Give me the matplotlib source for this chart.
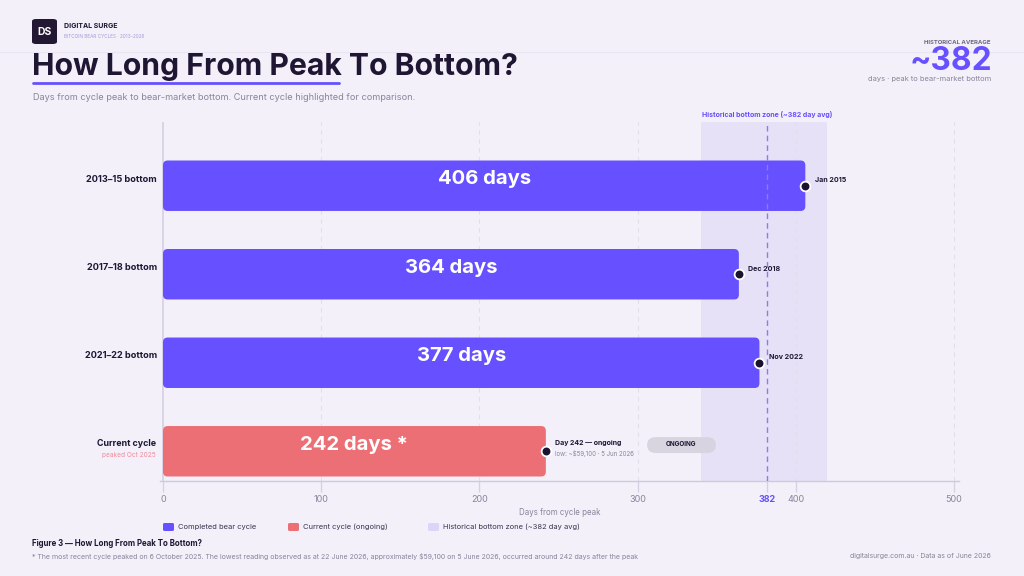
import matplotlib
matplotlib.use("Agg")
import matplotlib.pyplot as plt
from matplotlib.patches import FancyBboxPatch
from matplotlib.lines import Line2D

# ---- data ----
categories = ["2013–15 bottom", "2017–18 bottom", "2021–22 bottom", "Current cycle"]
days = [406, 364, 377, 242]
bar_labels = ["406 days", "364 days", "377 days", "242 days *"]
end_labels = ["Jan 2015", "Dec 2018", "Nov 2022", "Day 242 — ongoing"]
hist_avg = 382
zone = [340, 420]
x_ticks = [0, 100, 200, 300, 400, 500]

BG = "#F3F0FA"
PURPLE = "#6650FF"
RED = "#EC6F76"
ZONE = "#E6E1F7"
DARK = "#1F1633"
GRAY = "#8A8499"

plt.rcParams["font.family"] = ["Inter", "DejaVu Sans"]

W, H = 1024, 576
fig = plt.figure(figsize=(W / 100, H / 100), dpi=100, facecolor=BG)

def fx(x):
    return x / W

def fy(y):
    return 1 - y / H

# axes geometry
ax_left, ax_right, ax_top, ax_bot = 159.8, 958.8, 122, 481
ax = fig.add_axes([fx(ax_left), fy(ax_bot), (ax_right - ax_left) / W, (ax_bot - ax_top) / H])
ax.set_facecolor(BG)
ax.set_xlim(-2, 503)
ax.set_ylim(3.336, -0.72)

# zone and grid
ax.axvspan(zone[0], zone[1], color=ZONE, zorder=0, lw=0)
for t in x_ticks[1:]:
    ax.axvline(t, color="#E2DEEC", lw=0.8, ls=(0, (4, 4)), zorder=0.5)
ax.axvline(0, color="#D6D0E2", lw=1.2, zorder=1)

ypos = list(range(len(categories)))
colors = [PURPLE, PURPLE, PURPLE, RED]
bars = ax.barh(ypos, days, height=0.57, color=colors, zorder=2)
# rounded corners
x_px = 799 / 505
y_px = 359 / 4.056
for b, c in zip(bars, colors):
    b.set_visible(False)
    r = 3.0
    p = FancyBboxPatch((b.get_x(), b.get_y()), b.get_width(), b.get_height(),
                       boxstyle=f"round,pad=0,rounding_size={r}",
                       mutation_aspect=x_px / y_px,
                       facecolor=c, edgecolor="none", zorder=2)
    ax.add_patch(p)

ax.axvline(hist_avg, color="#8B7BF0", lw=1.0, ls=(0, (4, 3)), zorder=3)

for i, (v, lab) in enumerate(zip(days, bar_labels)):
    ax.text(v / 2, i - 0.075, lab, color="white", fontsize=14.6, fontweight="bold",
            ha="center", va="center", zorder=4)
    ax.plot([v], [i], "o", ms=7, mfc="#1B1230", mec="white", mew=1.3, zorder=5, clip_on=False)
    if i < 3:
        ax.text(v + 6, i - 0.06, end_labels[i], color=DARK, fontsize=5.1, fontweight="bold",
                ha="left", va="center", zorder=5)
    else:
        ax.text(v + 6, i - 0.09, end_labels[i], color=DARK, fontsize=5.0, fontweight="bold",
                ha="left", va="center", zorder=5)
        ax.text(v + 6, i + 0.03, "low: ~$59,100 · 5 Jun 2026", color=GRAY, fontsize=4.4,
                ha="left", va="center", zorder=5)
        pill = FancyBboxPatch((306, i - 0.16), 43.5, 0.18,
                              boxstyle="round,pad=0,rounding_size=5.5",
                              mutation_aspect=(0.09 / 5.5),
                              facecolor="#D7D3DF", edgecolor="none", zorder=4, alpha=0.95)
        ax.add_patch(pill)
        ax.text(327.5, i - 0.085, "ONGOING", color=DARK, fontsize=4.6, fontweight="bold",
                ha="center", va="center", zorder=5)

# y labels
ax.set_yticks([])
for i, c in enumerate(categories):
    if i < 3:
        fig.text(fx(157), fy(179 + 88.3 * i), c, color=DARK, fontsize=6.6, fontweight="bold",
                 ha="right", va="center")
fig.text(fx(156), fy(444), categories[3], color=DARK, fontsize=6.4, fontweight="bold",
         ha="right", va="center")
fig.text(fx(156), fy(455), "peaked Oct 2025", color="#F08A99", fontsize=4.7, ha="right", va="center")

# spines & ticks
for s in ["top", "right", "left"]:
    ax.spines[s].set_visible(False)
ax.spines["bottom"].set_color("#CFC8DF")
ax.spines["bottom"].set_linewidth(1.0)
ax.set_xticks(x_ticks + [hist_avg])
ax.set_xticklabels([str(t) for t in x_ticks] + [str(hist_avg)])
ax.tick_params(axis="x", length=8, width=0.9, color="#D6D0E2", labelsize=6.5,
               labelcolor=GRAY, pad=2)
for tk in ax.xaxis.get_major_ticks():
    if tk.label1.get_text() == str(hist_avg):
        tk.label1.set_color(PURPLE)
        tk.label1.set_fontweight("bold")
        tk.tick1line.set_color("#8B7BF0")
ax.set_xlabel("Days from cycle peak", fontsize=5.7, color=GRAY, labelpad=3)

# zone label
fig.text(fx(767), fy(114), "Historical bottom zone (~382 day avg)", color=PURPLE,
         fontsize=5, fontweight="bold", ha="center", va="center")

# legend
leg_items = [(163, PURPLE, "Completed bear cycle"),
             (288, RED, "Current cycle (ongoing)"),
             (428, "#DCD5F7", "Historical bottom zone (~382 day avg)")]
for x0, c, t in leg_items:
    fig.patches.append(FancyBboxPatch((fx(x0), fy(531)), 11 / W, 8 / H,
                                      boxstyle="round,pad=0,rounding_size=0.002",
                                      transform=fig.transFigure, facecolor=c,
                                      edgecolor="none"))
    fig.text(fx(x0 + 15), fy(526.5), t, color="#3A3350", fontsize=5.4, ha="left", va="center")

# header
fig.patches.append(FancyBboxPatch((fx(32), fy(44)), 25 / W, 25 / H,
                                  boxstyle="round,pad=0,rounding_size=0.004",
                                  transform=fig.transFigure, facecolor="#221833",
                                  edgecolor="none"))
fig.text(fx(44.5), fy(32), "DS", color="white", fontsize=7.5, fontweight="bold",
         ha="center", va="center")
fig.text(fx(64), fy(25.5), "DIGITAL SURGE", color=DARK, fontsize=5.0, fontweight="bold",
         ha="left", va="center")
fig.text(fx(64), fy(36.5), "BITCOIN BEAR CYCLES · 2013–2026", color="#A79BD6", fontsize=3.4,
         ha="left", va="center")
fig.lines.append(Line2D([0, 1], [fy(52), fy(52)], transform=fig.transFigure,
                        color="#E9E5F2", lw=0.8))
fig.text(fx(32), fy(67), "How Long From Peak To Bottom?", color=DARK, fontsize=21.7,
         fontweight="bold", ha="left", va="center")
fig.lines.append(Line2D([fx(33), fx(339)], [fy(83), fy(83)], transform=fig.transFigure,
                        color=PURPLE, lw=2, solid_capstyle="round"))
fig.text(fx(33), fy(97), "Days from cycle peak to bear-market bottom. Current cycle highlighted for comparison.",
         color=GRAY, fontsize=6.6, ha="left", va="center")

fig.text(fx(991), fy(42), "HISTORICAL AVERAGE", color="#6E6880", fontsize=4.3,
         fontweight="bold", ha="right", va="center")
fig.text(fx(992), fy(62), "~382", color=PURPLE, fontsize=22.8, fontweight="bold",
         ha="right", va="center")
fig.text(fx(991), fy(79), "days · peak to bear-market bottom", color=GRAY, fontsize=5.4,
         ha="right", va="center")

# footer
fig.text(fx(32), fy(544), "Figure 3 — How Long From Peak To Bottom?", color=DARK, fontsize=5.7,
         fontweight="bold", ha="left", va="center")
fig.text(fx(32), fy(556),
         "* The most recent cycle peaked on 6 October 2025. The lowest reading observed as at 22 June 2026, "
         "approximately $59,100 on 5 June 2026, occurred around 242 days after the peak",
         color=GRAY, fontsize=5.0, ha="left", va="center")
fig.text(fx(991), fy(556), "digitalsurge.com.au · Data as of June 2026", color=GRAY,
         fontsize=5.0, ha="right", va="center")

fig.savefig("out.png", dpi=100, facecolor=BG)
